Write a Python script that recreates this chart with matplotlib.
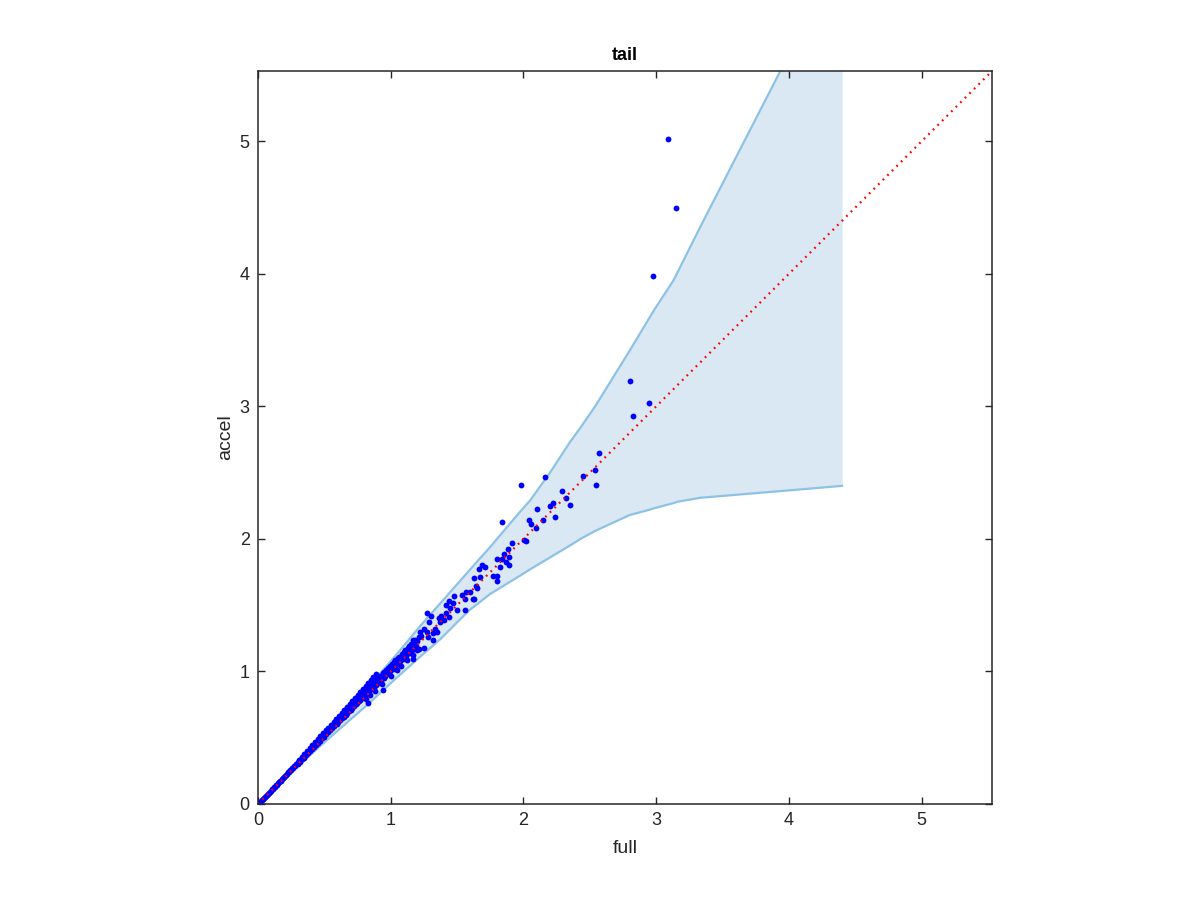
import matplotlib
matplotlib.use('Agg')
import matplotlib.pyplot as plt

plt.rcParams['font.family'] = ['Liberation Sans', 'DejaVu Sans']

# band (envelope)
band_x = [0, 0.25, 0.5, 0.82, 1.02, 1.22, 1.37, 1.59, 1.75, 1.97, 2.05, 2.20, 2.35, 2.43, 2.54, 2.80, 2.95, 2.98, 3.13, 3.16, 3.33, 3.93, 4.40]
band_up = [0, 0.262, 0.53, 0.87, 1.10, 1.34, 1.51, 1.76, 1.94, 2.20, 2.29, 2.50, 2.73, 2.84, 3.00, 3.42, 3.67, 3.72, 3.95, 4.01, 4.35, 5.52, 6.44]
band_lo = [0, 0.24, 0.465, 0.745, 0.93, 1.11, 1.24, 1.46, 1.585, 1.72, 1.77, 1.86, 1.95, 2.00, 2.06, 2.18, 2.22, 2.23, 2.27, 2.28, 2.31, 2.36, 2.40]

# scatter points (full, accel)
pts = [
    (0.005, 0.006), (0.012, 0.011), (0.02, 0.021), (0.028, 0.030), (0.035, 0.034), (0.043, 0.046),
    (0.05, 0.051), (0.058, 0.062), (0.066, 0.065), (0.073, 0.078), (0.081, 0.082), (0.089, 0.094),
    (0.096, 0.098), (0.104, 0.110), (0.112, 0.113), (0.12, 0.127), (0.127, 0.130), (0.135, 0.142),
    (0.143, 0.145), (0.15, 0.158), (0.158, 0.162), (0.166, 0.173), (0.174, 0.177), (0.181, 0.190),
    (0.189, 0.193), (0.197, 0.206), (0.205, 0.208), (0.212, 0.222), (0.22, 0.224), (0.228, 0.238),
    (0.236, 0.240), (0.243, 0.253), (0.251, 0.257), (0.259, 0.270), (0.267, 0.272), (0.274, 0.287),
    (0.282, 0.289), (0.29, 0.302), (0.298, 0.305),
    (0.305, 0.320), (0.313, 0.318), (0.321, 0.337), (0.329, 0.336), (0.336, 0.352), (0.344, 0.350),
    (0.352, 0.370), (0.36, 0.366), (0.367, 0.385), (0.375, 0.384), (0.383, 0.401), (0.39, 0.398),
    (0.398, 0.418), (0.406, 0.414), (0.414, 0.433), (0.421, 0.432), (0.429, 0.451), (0.437, 0.446),
    (0.445, 0.466), (0.452, 0.463), (0.46, 0.484), (0.468, 0.477), (0.476, 0.499), (0.483, 0.495),
    (0.491, 0.516), (0.499, 0.509), (0.507, 0.532), (0.514, 0.526), (0.522, 0.548), (0.53, 0.540),
    (0.538, 0.566), (0.545, 0.556), (0.553, 0.580), (0.561, 0.572), (0.569, 0.597), (0.576, 0.588),
    (0.584, 0.613), (0.592, 0.604), (0.6, 0.630),
    (0.31, 0.335), (0.33, 0.357), (0.35, 0.380), (0.37, 0.400), (0.39, 0.424), (0.41, 0.444),
    (0.43, 0.468), (0.45, 0.488), (0.47, 0.511), (0.49, 0.532), (0.51, 0.555), (0.53, 0.576),
    (0.55, 0.598), (0.57, 0.619), (0.59, 0.642), (0.61, 0.666), (0.63, 0.688), (0.65, 0.711),
    (0.67, 0.733), (0.69, 0.756), (0.71, 0.779), (0.73, 0.801), (0.75, 0.824), (0.77, 0.847),
    (0.79, 0.866), (0.81, 0.889), (0.83, 0.912), (0.85, 0.934), (0.87, 0.957), (0.89, 0.978),
    (0.605, 0.615), (0.612, 0.648), (0.62, 0.632), (0.626, 0.660), (0.633, 0.645), (0.64, 0.676),
    (0.646, 0.655), (0.652, 0.690), (0.66, 0.672), (0.665, 0.702), (0.672, 0.683), (0.678, 0.717),
    (0.685, 0.698), (0.69, 0.733), (0.697, 0.710), (0.703, 0.744), (0.71, 0.725), (0.716, 0.760),
    (0.722, 0.736), (0.728, 0.777), (0.735, 0.751), (0.741, 0.790), (0.748, 0.763), (0.754, 0.803),
    (0.76, 0.776), (0.766, 0.818), (0.772, 0.787), (0.778, 0.828), (0.785, 0.800), (0.79, 0.846),
    (0.797, 0.813), (0.803, 0.858), (0.81, 0.826), (0.815, 0.795), (0.822, 0.871), (0.828, 0.840),
    (0.831, 0.759), (0.834, 0.885), (0.84, 0.852), (0.847, 0.824), (0.853, 0.898), (0.86, 0.870),
    (0.866, 0.913), (0.872, 0.884), (0.878, 0.850), (0.885, 0.928), (0.891, 0.900), (0.897, 0.941),
    (0.903, 0.912), (0.91, 0.955), (0.916, 0.924), (0.922, 0.968), (0.928, 0.938), (0.935, 0.905),
    (0.94, 0.859), (0.941, 0.985), (0.947, 0.952), (0.953, 0.998), (0.96, 0.967), (0.966, 1.012),
    (0.972, 0.980), (0.978, 1.025), (0.985, 0.993), (0.991, 1.040), (0.997, 1.005), (1.003, 0.968),
    (1.01, 1.058), (1.016, 1.022), (1.022, 1.070), (1.028, 1.035), (1.035, 1.085), (1.041, 1.050),
    (1.047, 1.012), (1.053, 1.100), (1.06, 1.066), (1.066, 1.112), (1.072, 1.078), (1.078, 1.040),
    (1.085, 1.130), (1.091, 1.095), (1.097, 1.145), (1.103, 1.108), (1.11, 1.160), (1.116, 1.120),
    (1.122, 1.085), (1.128, 1.175), (1.135, 1.140), (1.141, 1.190), (1.147, 1.150), (1.153, 1.205),
    (1.16, 1.165), (1.166, 1.125), (1.172, 1.220), (1.178, 1.180), (1.185, 1.235), (1.191, 1.195),
    (1.197, 1.160), (1.15, 1.20), (1.17, 1.24), (1.19, 1.18), (1.20, 1.23), (1.17, 1.09), (1.21, 1.17),
    (1.21, 1.26), (1.22, 1.30), (1.23, 1.27), (1.25, 1.32), (1.27, 1.30), (1.25, 1.18), (1.28, 1.26),
    (1.29, 1.37), (1.27, 1.44), (1.30, 1.42), (1.32, 1.24), (1.32, 1.29), (1.33, 1.32), (1.35, 1.30),
    (1.36, 1.40), (1.37, 1.37), (1.38, 1.42), (1.40, 1.39), (1.42, 1.44), (1.44, 1.41), (1.42, 1.50),
    (1.44, 1.53), (1.45, 1.48), (1.47, 1.52), (1.48, 1.57), (1.50, 1.46), (1.54, 1.58), (1.56, 1.55),
    (1.56, 1.46), (1.57, 1.60), (1.60, 1.60), (1.62, 1.55),
    (1.625, 1.545), (1.630, 1.705), (1.643, 1.645), (1.653, 1.630), (1.665, 1.773), (1.675, 1.713),
    (1.686, 1.803), (1.711, 1.786), (1.771, 1.718), (1.801, 1.683), (1.804, 1.718), (1.804, 1.852),
    (1.824, 1.788), (1.836, 1.846), (1.839, 2.125), (1.851, 1.886), (1.866, 1.826), (1.884, 1.922),
    (1.889, 1.867), (1.889, 1.803), (1.917, 1.967), (1.982, 2.404), (2.005, 1.992), (2.020, 1.982),
    (2.042, 2.140), (2.060, 2.115), (2.093, 2.085), (2.103, 2.223), (2.145, 2.140), (2.163, 2.467),
    (2.198, 2.246), (2.221, 2.271), (2.241, 2.163), (2.291, 2.359), (2.319, 2.308), (2.349, 2.256),
    (2.452, 2.474), (2.542, 2.517), (2.550, 2.406), (2.572, 2.650),
    (2.806, 3.188), (2.824, 2.929), (2.944, 3.022), (2.977, 3.984), (3.092, 5.017), (3.148, 4.497),
]
full = [p[0] for p in pts]
accel = [p[1] for p in pts]

diag = [0, 5.6]

fig = plt.figure(figsize=(12, 9), dpi=100)
ax = fig.add_axes([0.215, 0.1067, 0.6117, 0.8144])

ax.fill_between(band_x, band_lo, band_up, color='#d9e8f3', lw=0)
ax.plot(band_x, band_up, color='#8ec2e4', lw=1.6)
ax.plot(band_x, band_lo, color='#8ec2e4', lw=1.6)
ax.plot(full, accel, 'o', color='#0000ff', ms=4.2, mew=0)
ax.plot(diag, diag, color='#ff0000', lw=1.6, linestyle=(0, (0.8, 2.1)))

ax.set_xlim(0, 5.53)
ax.set_ylim(0, 5.53)
ax.set_xticks(range(6))
ax.set_yticks(range(6))
ax.tick_params(direction='in', top=True, right=True, length=5, width=1,
               colors='#262626', labelsize=13, pad=6)
for s in ax.spines.values():
    s.set_color('#262626')
    s.set_linewidth(1.1)

ax.set_title('tail', fontsize=13, fontweight='bold', pad=8)
ax.set_xlabel('full', fontsize=14, color='#262626', labelpad=8)
ax.set_ylabel('accel', fontsize=14, color='#262626', labelpad=4)

plt.savefig('out.png', dpi=100)
